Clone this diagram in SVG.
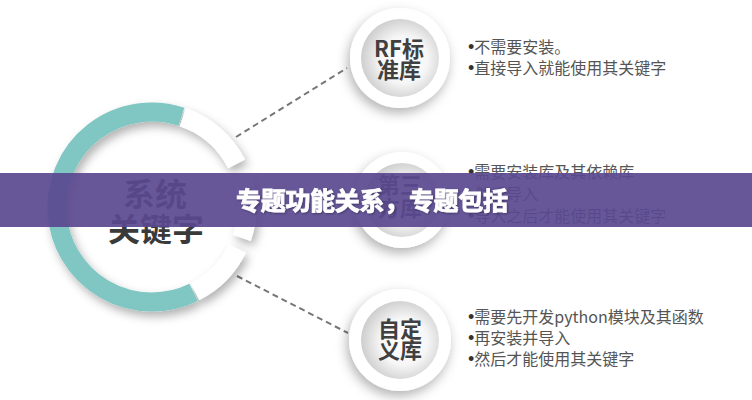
<svg xmlns="http://www.w3.org/2000/svg" width="752" height="400" viewBox="0 0 752 400">
<defs>
<style>
.lbl{font-family:"Noto Sans CJK SC","Liberation Sans",sans-serif;font-weight:bold;fill:#404040;text-anchor:middle}
.big{font-family:"Noto Sans CJK SC","Liberation Sans",sans-serif;font-weight:bold;fill:#3a3a3a;text-anchor:middle;font-size:32px}
.blt{font-family:"Noto Sans CJK SC","Liberation Sans",sans-serif;fill:#555;font-size:16px}
.dot{font-family:"Liberation Sans",sans-serif;fill:#333;font-size:18px}
.dash{stroke:#777;stroke-width:2;stroke-dasharray:6 4;fill:none}
.seg{fill:none;stroke-width:19}
</style>
<filter id="sh" x="-30%" y="-30%" width="160%" height="160%">
<feDropShadow dx="3" dy="5" stdDeviation="5" flood-color="#000" flood-opacity="0.3"/>
</filter>
<filter id="sh2" x="-40%" y="-40%" width="180%" height="180%">
<feDropShadow dx="-2" dy="5" stdDeviation="6" flood-color="#000" flood-opacity="0.3"/>
</filter>
<radialGradient id="disk" cx="55%" cy="52%" r="55%">
<stop offset="0" stop-color="#ffffff"/>
<stop offset="0.55" stop-color="#f6f6f6"/>
<stop offset="1" stop-color="#cdcdcd"/>
</radialGradient>
<filter id="tsh" x="-10%" y="-30%" width="120%" height="160%">
<feDropShadow dx="1" dy="1" stdDeviation="1" flood-color="#000" flood-opacity="0.35"/>
</filter>
</defs>
<rect width="752" height="400" fill="#ffffff"/>

<g id="connectors">
<line class="dash" x1="236" y1="137" x2="347" y2="68"/>
<line class="dash" x1="237" y1="276" x2="348" y2="333"/>
</g>

<g id="system-keywords">
<circle cx="152" cy="207" r="84" fill="#ffffff"/>
<g filter="url(#sh)">
<path class="seg" stroke="#80c6c3" d="M181.4 116.7 A95 95 0 1 0 193.6 292.4"/>
<path class="seg" stroke="#ffffff" d="M182.9 117.2 A95 95 0 0 1 236.6 163.9"/>
<path class="seg" stroke="#ffffff" d="M241.8 176.1 A95 95 0 0 1 241.8 237.9"/>
<path class="seg" stroke="#ffffff" d="M237.4 248.6 A95 95 0 0 1 195.1 291.6"/>
</g>
<text class="big" x="155" y="206">系统</text>
<text class="big" x="156" y="241">关键字</text>
</g>

<g id="rf-std-lib">
<circle cx="400" cy="58" r="50" fill="#ffffff" filter="url(#sh2)"/>
<circle cx="400" cy="58" r="39" fill="url(#disk)"/>
<text class="lbl" font-size="22" x="399" y="57">RF标</text>
<text class="lbl" font-size="22" x="399" y="78">准库</text>
<text class="blt" x="468" y="53"><tspan class="dot">•</tspan>不需要安装。</text>
<text class="blt" x="468" y="74"><tspan class="dot">•</tspan>直接导入就能使用其关键字</text>
</g>

<g id="third-party-lib">
<circle cx="402" cy="200" r="48" fill="#ffffff" filter="url(#sh2)"/>
<circle cx="402" cy="200" r="37" fill="url(#disk)"/>
<text class="lbl" font-size="22" x="400" y="193">第三</text>
<text class="lbl" font-size="22" x="400" y="216">方库</text>
<text class="blt" x="468" y="178"><tspan class="dot">•</tspan>需要安装库及其依赖库</text>
<text class="blt" x="468" y="200"><tspan class="dot">•</tspan>然后导入</text>
<text class="blt" x="468" y="222"><tspan class="dot">•</tspan>导入之后才能使用其关键字</text>
</g>

<g id="custom-lib">
<circle cx="400" cy="340" r="51" fill="#ffffff" filter="url(#sh2)"/>
<circle cx="400" cy="340" r="39" fill="url(#disk)"/>
<text class="lbl" font-size="22" x="400" y="337">自定</text>
<text class="lbl" font-size="22" x="400" y="358">义库</text>
<text class="blt" x="468" y="323"><tspan class="dot">•</tspan>需要先开发python模块及其函数</text>
<text class="blt" x="468" y="344"><tspan class="dot">•</tspan>再安装并导入</text>
<text class="blt" x="468" y="365"><tspan class="dot">•</tspan>然后才能使用其关键字</text>
</g>

<g id="banner">
<rect x="0" y="173" width="752" height="54" fill="#5a4990" opacity="0.92"/>
<text x="236" y="210" font-family="'Noto Sans CJK SC','Liberation Sans',sans-serif" font-weight="bold" font-size="25" fill="#ffffff" stroke="#ffffff" stroke-width="0.8" filter="url(#tsh)" textLength="272">专题功能关系，专题包括</text>
</g>
</svg>
